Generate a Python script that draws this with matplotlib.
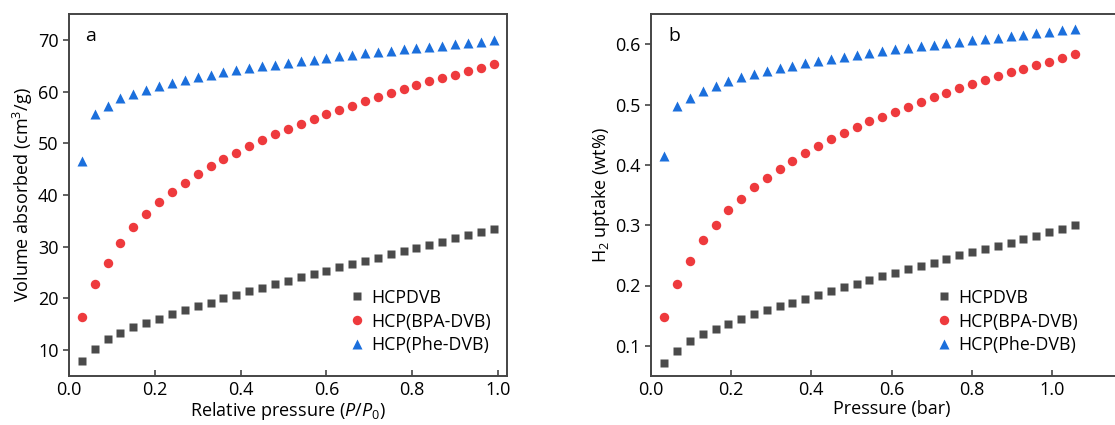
import numpy as np
import matplotlib
matplotlib.use('Agg')
import matplotlib.pyplot as plt

plt.rcParams['font.family'] = ['Open Sans', 'DejaVu Sans']
plt.rcParams['mathtext.fontset'] = 'custom'
plt.rcParams['mathtext.rm'] = 'Open Sans'
plt.rcParams['mathtext.it'] = 'Open Sans:italic'

labels = ['HCPDVB', 'HCP(BPA-DVB)', 'HCP(Phe-DVB)']

# panel a: N2 isotherm, relative pressure
p_rel = [0.03, 0.06, 0.09, 0.12, 0.15, 0.18, 0.21, 0.24, 0.27, 0.30, 0.33,
         0.36, 0.39, 0.42, 0.45, 0.48, 0.51, 0.54, 0.57, 0.60, 0.63, 0.66,
         0.69, 0.72, 0.75, 0.78, 0.81, 0.84, 0.87, 0.90, 0.93, 0.96, 0.99]
vol_dvb = [7.9, 10.3, 12.1, 13.3, 14.4, 15.3, 16.1, 16.9, 17.7, 18.5, 19.2,
           20.0, 20.7, 21.4, 22.0, 22.7, 23.4, 24.1, 24.7, 25.4, 26.1, 26.7,
           27.2, 27.9, 28.5, 29.2, 29.7, 30.3, 31.0, 31.6, 32.3, 32.8, 33.4]
vol_bpa = [16.4, 22.7, 26.9, 30.8, 33.8, 36.4, 38.6, 40.6, 42.4, 44.0, 45.6,
           46.9, 48.2, 49.4, 50.6, 51.7, 52.8, 53.7, 54.7, 55.6, 56.4, 57.3,
           58.2, 59.0, 59.8, 60.5, 61.3, 62.0, 62.7, 63.2, 63.9, 64.6, 65.4]
vol_phe = [46.5, 55.7, 57.3, 58.7, 59.5, 60.4, 61.1, 61.7, 62.3, 62.8, 63.2,
           63.7, 64.1, 64.5, 64.9, 65.2, 65.6, 65.9, 66.2, 66.5, 66.8, 67.1,
           67.4, 67.7, 67.9, 68.2, 68.4, 68.6, 68.9, 69.2, 69.4, 69.6, 69.9]

# panel b: H2 uptake, pressure in bar
p_bar = [0.033, 0.065, 0.097, 0.129, 0.161, 0.193, 0.225, 0.257, 0.289, 0.321,
         0.353, 0.385, 0.417, 0.449, 0.481, 0.513, 0.545, 0.577, 0.609, 0.641,
         0.673, 0.705, 0.737, 0.769, 0.801, 0.833, 0.865, 0.897, 0.929, 0.961,
         0.993, 1.025, 1.057]
h2_dvb = [0.071, 0.092, 0.108, 0.119, 0.128, 0.137, 0.145, 0.152, 0.159, 0.166,
          0.171, 0.178, 0.185, 0.191, 0.197, 0.203, 0.209, 0.215, 0.221, 0.227,
          0.233, 0.238, 0.244, 0.250, 0.255, 0.260, 0.266, 0.271, 0.277, 0.282,
          0.289, 0.294, 0.300]
h2_bpa = [0.147, 0.203, 0.240, 0.275, 0.301, 0.325, 0.344, 0.363, 0.378, 0.393,
          0.407, 0.419, 0.431, 0.442, 0.452, 0.462, 0.472, 0.480, 0.488, 0.496,
          0.504, 0.512, 0.519, 0.527, 0.534, 0.540, 0.547, 0.554, 0.559, 0.565,
          0.571, 0.577, 0.584]
h2_phe = [0.415, 0.497, 0.511, 0.523, 0.531, 0.539, 0.545, 0.550, 0.556, 0.560,
          0.564, 0.569, 0.572, 0.576, 0.579, 0.582, 0.586, 0.589, 0.592, 0.594,
          0.597, 0.599, 0.602, 0.604, 0.607, 0.609, 0.611, 0.614, 0.616, 0.618,
          0.620, 0.623, 0.625]

c_dvb = '#4a4a4a'
c_bpa = '#ee3a3d'
c_phe = '#1b6fdc'
spine_c = '#454545'

fig = plt.figure(figsize=(11.15, 4.25), dpi=100)
ax1 = fig.add_axes([69 / 1115, 1 - 376 / 425, 438 / 1115, 362 / 425])
ax2 = fig.add_axes([651 / 1115, 1 - 376 / 425, 481 / 1115, 362 / 425])


def draw(ax, x, ys, panel):
    ax.plot(x, ys[0], 's', ms=5.4, color=c_dvb, mec='none', label=labels[0])
    ax.plot(x, ys[1], 'o', ms=6.8, color=c_bpa, mec='none', label=labels[1])
    ax.plot(x, ys[2], '^', ms=7.6, color=c_phe, mec='none', label=labels[2])
    for s in ax.spines.values():
        s.set_color(spine_c)
        s.set_linewidth(1.4)
    ax.tick_params(axis='y', direction='out', length=4, width=1.2,
                   color=spine_c, labelsize=13)
    ax.tick_params(axis='x', direction='in', length=4, width=1.2,
                   color=spine_c, labelsize=13)
    ax.text(0.037, 0.94, panel, transform=ax.transAxes, fontsize=14,
            va='center', ha='left')


draw(ax1, p_rel, [vol_dvb, vol_bpa, vol_phe], 'a')
ax1.set_xlim(0, 1.021)
ax1.set_ylim(5, 75)
ax1.set_xticks([0.0, 0.2, 0.4, 0.6, 0.8, 1.0])
ax1.set_yticks([10, 20, 30, 40, 50, 60, 70])
ax1.set_xlabel('Relative pressure ($\\mathit{P}$/$\\mathit{P}_0$)', fontsize=13, labelpad=1)
ax1.set_ylabel('Volume absorbed (cm$^3$/g)', fontsize=13, labelpad=2)
ax1.legend(frameon=False, fontsize=12.8, handlelength=0.8, handletextpad=0.4,
           labelspacing=0.33, borderpad=0, loc='lower left',
           bbox_to_anchor=(0.62, 0.035))

draw(ax2, p_bar, [h2_dvb, h2_bpa, h2_phe], 'b')
ax2.set_xlim(0, 1.2)
ax2.set_ylim(0.05, 0.65)
ax2.set_xticks([0.0, 0.2, 0.4, 0.6, 0.8, 1.0])
ax2.set_yticks([0.1, 0.2, 0.3, 0.4, 0.5, 0.6])
ax2.set_xlabel('Pressure (bar)', fontsize=13, labelpad=1)
ax2.set_ylabel('H$_2$ uptake (wt%)', fontsize=13, labelpad=2)
ax2.legend(frameon=False, fontsize=12.8, handlelength=0.8, handletextpad=0.4,
           labelspacing=0.33, borderpad=0, loc='lower left',
           bbox_to_anchor=(0.576, 0.035))

fig.savefig('out.png', dpi=100)
